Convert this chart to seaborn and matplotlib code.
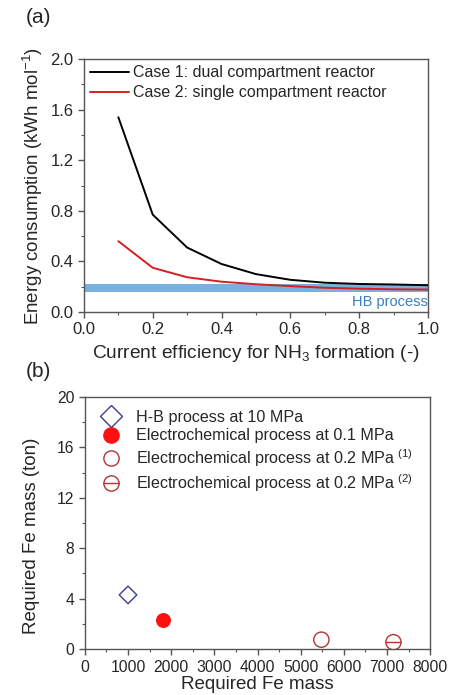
import numpy as np
import pandas as pd
import matplotlib
matplotlib.use("Agg")
import matplotlib.pyplot as plt
import seaborn as sns
from matplotlib.ticker import MultipleLocator, FormatStrFormatter
from matplotlib.lines import Line2D
from matplotlib.legend_handler import HandlerTuple

sns.set_style("ticks")
plt.rcParams["font.family"] = ["Liberation Sans", "DejaVu Sans"]
plt.rcParams["mathtext.fontset"] = "custom"
plt.rcParams["mathtext.rm"] = "Liberation Sans"
plt.rcParams["mathtext.it"] = "Liberation Sans"

# ---------- data: panel (a) ----------
efficiency = [0.1, 0.2, 0.3, 0.4, 0.5, 0.6, 0.7, 0.8, 0.9, 1.0]
case1_energy = [1.54, 0.77, 0.51, 0.38, 0.30, 0.255, 0.232, 0.222, 0.218, 0.212]
case2_energy = [0.56, 0.35, 0.275, 0.24, 0.22, 0.205, 0.192, 0.185, 0.18, 0.178]
hb_band = (0.16, 0.225)

# ---------- data: panel (b) ----------
process_labels = [
    "H-B process at 10 MPa",
    "Electrochemical process at 0.1 MPa",
    "Electrochemical process at 0.2 MPa $^{(1)}$",
    "Electrochemical process at 0.2 MPa $^{(2)}$",
]
fe_mass_x = [1000, 1800, 5480, 7150]
fe_mass_ton = [4.3, 2.3, 0.75, 0.55]

df_a = pd.DataFrame({
    "eff": efficiency * 2,
    "energy": case1_energy + case2_energy,
    "case": ["Case 1: dual compartment reactor"] * 10
            + ["Case 2: single compartment reactor"] * 10,
})

fig = plt.figure(figsize=(4.49, 6.95), dpi=100)
ax1 = fig.add_axes([0.187, 0.551, 0.766, 0.364])
ax2 = fig.add_axes([0.189, 0.066, 0.769, 0.363])

spine_col = "#555555"
blue = "#3c3c9c"
red = "#ff1010"
dark_red = "#b03535"

# ---------- panel (a) ----------
ax1.axhspan(hb_band[0], hb_band[1], color="#78b0e0", lw=0, zorder=1)
sns.lineplot(data=df_a, x="eff", y="energy", hue="case",
             palette=["black", "#d42020"], lw=1.4, ax=ax1, zorder=3)
ax1.text(1.0, 0.08, "HB process", color="#3a7fc0", fontsize=10.5,
         ha="right", va="center")
ax1.set_xlim(0, 1.0)
ax1.set_ylim(0, 2.0)
ax1.xaxis.set_major_locator(MultipleLocator(0.2))
ax1.xaxis.set_minor_locator(MultipleLocator(0.1))
ax1.yaxis.set_major_locator(MultipleLocator(0.4))
ax1.yaxis.set_minor_locator(MultipleLocator(0.2))
ax1.xaxis.set_major_formatter(FormatStrFormatter("%.1f"))
ax1.yaxis.set_major_formatter(FormatStrFormatter("%.1f"))
ax1.set_xlabel("Current efficiency for NH$_3$ formation (-)", fontsize=13.8, labelpad=4)
ax1.set_ylabel("Energy consumption (kWh mol$^{-1}$)", fontsize=13.5, labelpad=4)
ax1.legend(loc="upper left", frameon=False, fontsize=11.5, handlelength=2.4,
           borderaxespad=0.1, labelspacing=0.3, handletextpad=0.25,
           borderpad=0.3)
ax1.text(-0.17, 1.165, "(a)", transform=ax1.transAxes, fontsize=15, va="center")

# ---------- panel (b) ----------
sns.scatterplot(x=[fe_mass_x[0]], y=[fe_mass_ton[0]], marker="D", s=80,
                facecolor="none", edgecolor=blue, linewidth=1.0, ax=ax2)
sns.scatterplot(x=[fe_mass_x[1]], y=[fe_mass_ton[1]], marker="o", s=95,
                color=red, edgecolor=red, linewidth=1.0, ax=ax2)
sns.scatterplot(x=[fe_mass_x[2]], y=[fe_mass_ton[2]], marker="o", s=120,
                facecolor="none", edgecolor=dark_red, linewidth=1.0, ax=ax2)
sns.scatterplot(x=[fe_mass_x[3]], y=[fe_mass_ton[3]], marker="o", s=120,
                facecolor="none", edgecolor=dark_red, linewidth=1.0, ax=ax2)
sns.scatterplot(x=[fe_mass_x[3]], y=[fe_mass_ton[3]], marker="_", s=120,
                color=dark_red, linewidth=1.0, ax=ax2)

h1 = Line2D([], [], ls="none", marker="D", ms=11, mfc="none", mec=blue, mew=1.0)
h2 = Line2D([], [], ls="none", marker="o", ms=11, mfc=red, mec=red, mew=1.0)
h3 = Line2D([], [], ls="none", marker="o", ms=11, mfc="none", mec=dark_red, mew=1.0)
h4a = Line2D([], [], ls="none", marker="o", ms=11, mfc="none", mec=dark_red, mew=1.0)
h4b = Line2D([], [], ls="none", marker="_", ms=11, mec=dark_red, mew=1.0)
ax2.legend([h1, h2, h3, (h4a, h4b)], process_labels, loc="upper left",
           frameon=False, fontsize=11.6,
           handler_map={tuple: HandlerTuple(ndivide=1, pad=0)},
           borderaxespad=0.3, labelspacing=0.22, handletextpad=0.75,
           handlelength=1.6, borderpad=0.5)

ax2.set_xlim(0, 8000)
ax2.set_ylim(0, 20)
ax2.xaxis.set_major_locator(MultipleLocator(1000))
ax2.xaxis.set_minor_locator(MultipleLocator(500))
ax2.yaxis.set_major_locator(MultipleLocator(4))
ax2.yaxis.set_minor_locator(MultipleLocator(2))
ax2.set_xlabel("Required Fe mass", fontsize=13.5, labelpad=1)
ax2.set_ylabel("Required Fe mass (ton)", fontsize=13.5, labelpad=6)
ax2.yaxis.set_label_coords(-0.13, 0.45)
ax2.text(-0.17, 1.1, "(b)", transform=ax2.transAxes, fontsize=15, va="center")

for ax, fs in ((ax1, 12), (ax2, 11.3)):
    for sp in ax.spines.values():
        sp.set_color(spine_col)
        sp.set_linewidth(1.0)
    ax.tick_params(which="major", direction="out", length=4, width=1,
                   color=spine_col, labelsize=fs, top=False, right=False)
    ax.tick_params(which="minor", direction="out", length=2.5, width=0.8,
                   color=spine_col, top=False, right=False)

fig.savefig("out.png", dpi=100)
